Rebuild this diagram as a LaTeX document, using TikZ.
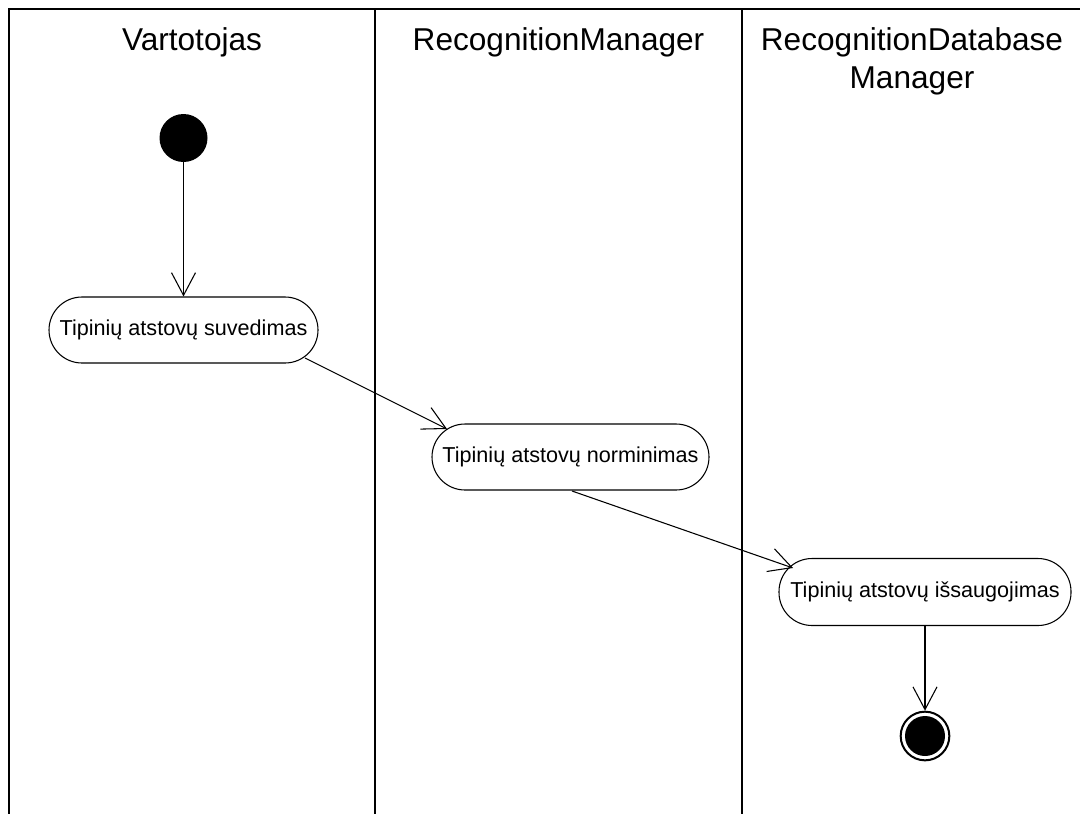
\documentclass[tikz,border=0pt]{standalone}
\usepackage{fontspec}
\setmainfont{Liberation Sans}
\usetikzlibrary{arrows.meta,calc}
\begin{document}
\begin{tikzpicture}[x=0.75pt,y=-0.75pt,
  lane/.style={line width=1.6pt, draw=black},
  title/.style={anchor=base, align=center, font=\fontsize{23.7}{28.5}\selectfont},
  act/.style={draw, line width=0.8pt, rounded corners=24.75pt, minimum height=49.5pt,
              inner sep=0pt, font=\fontsize{16.2}{19}\selectfont},
  flow/.style={line width=0.8pt, -{Straight Barb[length=17pt,width=18pt,line width=0.8pt]}},
  startdot/.style={circle, fill=black, minimum size=36pt, inner sep=0pt},
  enddot/.style={circle, draw, fill=white, line width=1.5pt, minimum size=36.5pt, inner sep=0pt}]
\useasboundingbox (0,0) rectangle (1080,814);

% swimlane frame
\coordinate (tl) at (9,9);
\coordinate (tr) at (1080,9);
\draw[lane] (tr) -- (tl) -- (9,814);
\draw[lane] (375,9) -- (375,814);
\draw[lane] (742,9) -- (742,814);

% lane titles (base anchor of a two-line title is its last baseline)
\node[title] (t1) at (192,50) {Vartotojas};
\node[title] (t2) at (558.5,50) {RecognitionManager};
\node[title] (t3) at (912,88) {RecognitionDatabase\\Manager};

% activities
\node[startdot] (start) at (183.5,138) {};
\node[act, minimum width=201.75pt] (n1) at (183.5,330) {Tipinių atstovų suvedimas};
\node[act, minimum width=207.75pt] (n2) at (570.5,457) {Tipinių atstovų norminimas};
\node[act, minimum width=219pt, minimum height=50.25pt] (n3) at (925,592) {Tipinių atstovų išsaugojimas};
\node[enddot] (end) at (925,736) {};
\fill (end.center) circle (20);

% control flow
\draw[flow] (start) -- (n1);
\draw[flow] ($(n1.center)+(121.5,28)$) -- ($(n2.center)+(-123.5,-28)$);
\draw[flow] ($(n2.center)+(1.5,34)$) -- ($(n3.center)+(-132,-24)$);
\draw[flow] (n3) -- (end);
\end{tikzpicture}
\end{document}
